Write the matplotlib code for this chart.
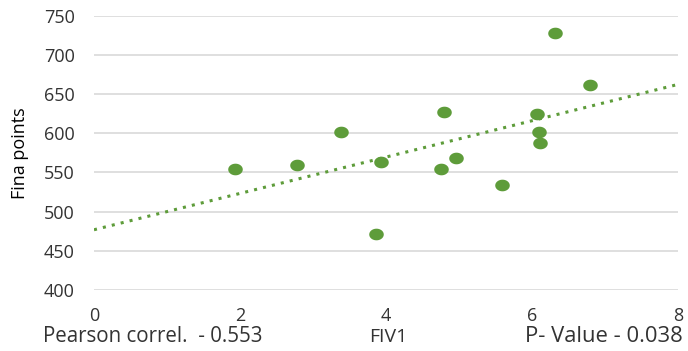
import matplotlib.pyplot as plt
import numpy as np

# FIV1 vs Fina points
fiv1 = [1.93, 2.78, 3.38, 3.93, 3.86, 4.79, 4.75, 4.96, 5.59, 6.07, 6.10, 6.11, 6.32, 6.79]
fina = [554, 560, 601, 563, 471, 627, 554, 568, 534, 625, 601, 588, 728, 662]

x_ticks = [0, 2, 4, 6, 8]
y_ticks = [400, 450, 500, 550, 600, 650, 700, 750]

green = '#5e9c3a'
txt = '#333333'
plt.rcParams['font.family'] = ['Open Sans', 'DejaVu Sans']

fig = plt.figure(figsize=(6.88, 3.51), dpi=100)
ax = fig.add_axes([0.1366, 0.1738, 0.8489, 0.782])

# slightly wide ellipse marker
t = np.linspace(0, 2 * np.pi, 40)
ell = np.column_stack([1.25 * np.cos(t), np.sin(t)])
ax.scatter(fiv1, fina, s=110, marker=ell, color=green, zorder=3, linewidths=0)

# linear trendline
k, b = np.polyfit(fiv1, fina, 1)
xs = np.array([0, 8])
ax.plot(xs, k * xs + b, linestyle=(0, (1, 2)), color=green, lw=2.2, zorder=2)

ax.set_xlim(0, 8)
ax.set_ylim(400, 750)
ax.set_xticks(x_ticks)
ax.set_yticks(y_ticks)
ax.tick_params(axis='y', length=0, labelsize=13, colors=txt, pad=14)
ax.tick_params(axis='x', length=0, labelsize=13, colors=txt, pad=12)
for s in ax.spines.values():
    s.set_visible(False)
ax.grid(axis='y', color='#d9d9d9', lw=1.2)
ax.set_axisbelow(True)

ax.set_ylabel('Fina points', fontsize=13, color='black')
ax.yaxis.set_label_coords(-0.112, 0.5)

fig.text(0.062, 0.012, 'Pearson correl.  - 0.553', fontsize=14.8, color=txt, ha='left', va='bottom')
fig.text(0.564, 0.014, 'FIV1', fontsize=14, color=txt, ha='center', va='bottom')
fig.text(0.992, 0.012, 'P- Value - 0.038', fontsize=15.8, color=txt, ha='right', va='bottom')

fig.savefig('out.png', dpi=100)
